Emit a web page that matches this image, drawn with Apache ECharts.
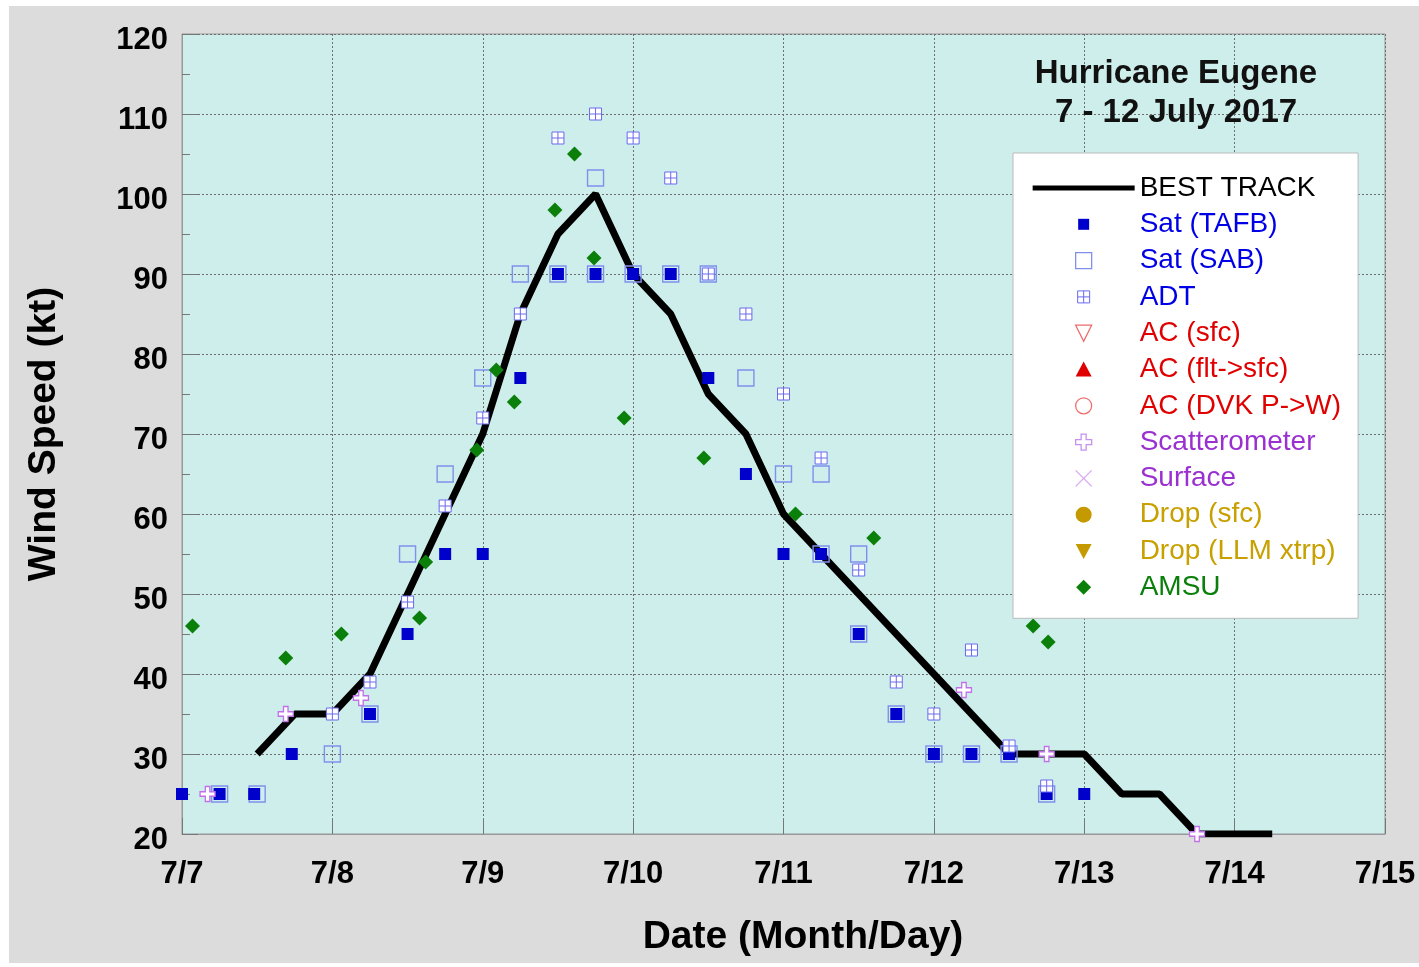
<!DOCTYPE html>
<html><head><meta charset="utf-8">
<script src="https://cdn.jsdelivr.net/npm/echarts@6/dist/echarts.min.js"></script>
<style>
html,body{margin:0;padding:0;background:#fff;width:1419px;height:967px;overflow:hidden}
#c{position:absolute;left:9px;top:6px;width:1410px;height:957px;background:#dcdcdc}
</style>
</head><body><div id="c"></div>
<script>
// x values: days after 7/7 00Z
const xTickLabels = ['7/7','7/8','7/9','7/10','7/11','7/12','7/13','7/14','7/15'];

const bestTrackDays = [0.5,0.75,1.0,1.25,1.5,1.75,2.0,2.25,2.5,2.75,3.0,3.25,3.5,3.75,4.0,4.25,4.5,4.75,5.0,5.25,5.5,5.75,6.0,6.25,6.5,6.75,7.0,7.25];
const bestTrackKt   = [30,35,35,40,50,60,70,85,95,100,90,85,75,70,60,55,50,45,40,35,30,30,30,25,25,20,20,20];

const tafbDays = [0,0.25,0.48,0.73,1.25,1.5,1.75,2.0,2.25,2.5,2.75,3.0,3.25,3.5,3.75,4.0,4.25,4.5,4.75,5.0,5.25,5.5,5.75,6.0];
const tafbKt   = [25,25,25,30,35,45,55,55,77,90,90,90,90,77,65,55,55,45,35,30,30,30,25,25];

const sabDays = [0.25,0.5,1.0,1.25,1.5,1.75,2.0,2.25,2.5,2.75,2.75,3.0,3.25,3.5,3.75,4.0,4.25,4.25,4.5,4.5,4.75,5.0,5.25,5.5,5.75];
const sabKt   = [25,25,30,35,55,65,77,90,90,90,102,90,90,90,77,65,65,55,55,45,35,30,30,30,25];

const adtDays = [1.0,1.25,1.5,1.75,2.0,2.25,2.5,2.75,3.0,3.25,3.5,3.75,4.0,4.25,4.5,4.75,5.0,5.25,5.5,5.75];
const adtKt   = [35,39,49,61,72,85,107,110,107,102,90,85,75,67,53,39,35,43,31,26];

const scatDays = [0.17,0.69,1.19,5.2,5.75,6.75];
const scatKt   = [25,35,37,38,30,20];

const amsuDays = [0.07,0.69,1.06,1.58,1.62,1.96,2.09,2.21,2.48,2.61,2.74,2.94,3.47,4.08,4.6,5.66,5.76];
const amsuKt   = [46,42,45,47,54,68,78,74,98,105,92,72,67,60,57,46,44];

function pairs(xs, ys){ return xs.map((x,i)=>[x, ys[i]]); }
function icon(d){ return 'path://M0,0M102,24' + d; }

const FONT = '"Liberation Sans", Arial, sans-serif';
const chart = echarts.init(document.getElementById('c'), null, {renderer:'canvas'});

const ADT_PATH = 'path://M0,0H10V10H0Z M5,0V10 M0,5H10';
const CROSS_PATH = 'path://M3.5,0H6.5V3.5H10V6.5H6.5V10H3.5V6.5H0V3.5H3.5Z';

chart.setOption({
  animation:false,
  backgroundColor:'#dcdcdc',
  grid:{left:173, top:28, width:1203, height:800, show:true, backgroundColor:'#cdeeea',
        borderColor:'#999', borderWidth:1, outerBoundsMode:'none', containLabel:false},
  xAxis:{
    type:'value', min:0, max:8, interval:1,
    axisLine:{show:true, lineStyle:{color:'#999', width:1}},
    axisTick:{show:true, inside:true, length:16, lineStyle:{color:'#777'}},
    axisLabel:{margin:25, fontSize:31, fontWeight:'bold', fontFamily:FONT, color:'#000',
               showMaxLabel:true, showMinLabel:true, hideOverlap:false,
               formatter:(v)=>xTickLabels[Math.round(v)]},
    splitLine:{show:true, lineStyle:{color:'#6e6e6e', type:[2,2], width:1}}
  },
  yAxis:{
    type:'value', min:20, max:120, interval:10,
    name:'Wind Speed (kt)', nameLocation:'middle', nameGap:118,
    nameTextStyle:{fontSize:39, fontWeight:'bold', fontFamily:FONT, color:'#000'},
    axisLine:{show:true, lineStyle:{color:'#999', width:1}},
    axisTick:{show:true, inside:true, length:16, lineStyle:{color:'#777'}},
    minorTick:{show:true, splitNumber:2, length:8, lineStyle:{color:'#777'}},
    axisLabel:{margin:14, color:'#000', formatter:(v)=>'{v|' + v + '}',
               rich:{v:{fontSize:31, fontWeight:'bold', fontFamily:FONT, color:'#000', padding:[12,0,0,0]}}},
    splitLine:{show:true, lineStyle:{color:'#6e6e6e', type:[2,2], width:1}}
  },
  legend:{
    orient:'vertical', left:1004, top:147, padding:[21,17,17,19],
    itemWidth:102, itemHeight:24, itemGap:8.3, selectedMode:false,
    backgroundColor:'#ffffff', borderColor:'#bbbbbb', borderWidth:1,
    textStyle:{fontSize:28, fontFamily:FONT, lineHeight:24},
    data:[
      {name:'BEST TRACK', icon:icon('M0,9.5H102V14.5H0Z'), itemStyle:{color:'#000', borderWidth:0, opacity:1}, textStyle:{color:'#000'}},
      {name:'Sat (TAFB)', icon:icon('M45.5,6.5h11v11h-11Z'), itemStyle:{color:'#0000cc', borderWidth:0, opacity:1}, textStyle:{color:'#0000e6'}},
      {name:'Sat (SAB)', icon:icon('M43,4h16v16h-16Z'), itemStyle:{color:'rgba(0,0,0,0)', borderColor:'#8090ee', borderWidth:1.3, opacity:1}, textStyle:{color:'#0000e6'}},
      {name:'ADT', icon:icon('M45,6h12v12h-12Z M51,6v12 M45,12h12'), itemStyle:{color:'#ffffff', borderColor:'#6a6aee', borderWidth:1, opacity:1}, textStyle:{color:'#0000e6'}},
      {name:'AC (sfc)', icon:icon('M43,4H59L51,20Z'), itemStyle:{color:'rgba(0,0,0,0)', borderColor:'#f06a6a', borderWidth:1.3, opacity:1}, textStyle:{color:'#e00000'}},
      {name:'AC (flt->sfc)', icon:icon('M51,4L59,19H43Z'), itemStyle:{color:'#e00000', borderWidth:0, opacity:1}, textStyle:{color:'#e00000'}},
      {name:'AC (DVK P->W)', icon:icon('M59,12A8,8 0 1,1 43,12A8,8 0 1,1 59,12Z'), itemStyle:{color:'rgba(0,0,0,0)', borderColor:'#f07070', borderWidth:1.3, opacity:1}, textStyle:{color:'#e00000'}},
      {name:'Scatterometer', icon:icon('M48.5,4H53.5V9.5H59V14.5H53.5V20H48.5V14.5H43V9.5H48.5Z'), itemStyle:{color:'#ffffff', borderColor:'#c890ee', borderWidth:1.3, opacity:1}, textStyle:{color:'#9a30d0'}},
      {name:'Surface', icon:icon('M43,4L59,20M59,4L43,20'), itemStyle:{color:'rgba(0,0,0,0)', borderColor:'#d8a8f2', borderWidth:1.3, opacity:1}, textStyle:{color:'#9a30d0'}},
      {name:'Drop (sfc)', icon:icon('M59,12A8,8 0 1,1 43,12A8,8 0 1,1 59,12Z'), itemStyle:{color:'#c49a00', borderWidth:0, opacity:1}, textStyle:{color:'#c8a000'}},
      {name:'Drop (LLM xtrp)', icon:icon('M43,5H59L51,20Z'), itemStyle:{color:'#c49a00', borderWidth:0, opacity:1}, textStyle:{color:'#c8a000'}},
      {name:'AMSU', icon:icon('M51,4.5L58.5,12L51,19.5L43.5,12Z'), itemStyle:{color:'#0a800a', borderWidth:0, opacity:1}, textStyle:{color:'#0a800a'}}
    ]
  },
  graphic:[{
    type:'text', x:1167, y:87, z:100,
    style:{text:'Hurricane Eugene\n7 - 12 July 2017', fontSize:33, fontWeight:'bold', fontFamily:FONT,
           lineHeight:39, align:'center', verticalAlign:'middle', fill:'#111'}
  },{
    type:'text', x:794, y:931, z:100,
    style:{text:'Date (Month/Day)', fontSize:39, fontWeight:'bold', fontFamily:FONT,
           align:'center', verticalAlign:'middle', fill:'#000'}
  }],
  series:[
    {name:'BEST TRACK', type:'line', data:pairs(bestTrackDays,bestTrackKt), symbol:'none', z:2,
     lineStyle:{color:'#000', width:7}, itemStyle:{color:'#000'}},
    {name:'Sat (SAB)', type:'scatter', data:pairs(sabDays,sabKt), symbol:'rect', symbolSize:16, z:3,
     itemStyle:{color:'rgba(0,0,0,0)', borderColor:'#8090ee', borderWidth:1.4, opacity:1}},
    {name:'Sat (TAFB)', type:'scatter', data:pairs(tafbDays,tafbKt), symbol:'rect', symbolSize:12, z:3,
     itemStyle:{color:'#0000cc', opacity:1}},
    {name:'ADT', type:'scatter', data:pairs(adtDays,adtKt), symbol:ADT_PATH, symbolSize:12, z:3,
     itemStyle:{color:'#ffffff', borderColor:'#6a6aee', borderWidth:1, opacity:1}},
    {name:'AC (sfc)', type:'scatter', data:[], itemStyle:{color:'#f06a6a'}},
    {name:'AC (flt->sfc)', type:'scatter', data:[], itemStyle:{color:'#e00000'}},
    {name:'AC (DVK P->W)', type:'scatter', data:[], itemStyle:{color:'#f07070'}},
    {name:'Scatterometer', type:'scatter', data:pairs(scatDays,scatKt), symbol:CROSS_PATH, symbolSize:15, z:3,
     itemStyle:{color:'#ffffff', borderColor:'#c070e8', borderWidth:1.3, opacity:1}},
    {name:'Surface', type:'scatter', data:[], itemStyle:{color:'#d8a8f2'}},
    {name:'Drop (sfc)', type:'scatter', data:[], itemStyle:{color:'#c49a00'}},
    {name:'Drop (LLM xtrp)', type:'scatter', data:[], itemStyle:{color:'#c49a00'}},
    {name:'AMSU', type:'scatter', data:pairs(amsuDays,amsuKt), symbol:'diamond', symbolSize:15, z:3,
     itemStyle:{color:'#0a800a', opacity:1}}
  ]
});
</script>
</body></html>
